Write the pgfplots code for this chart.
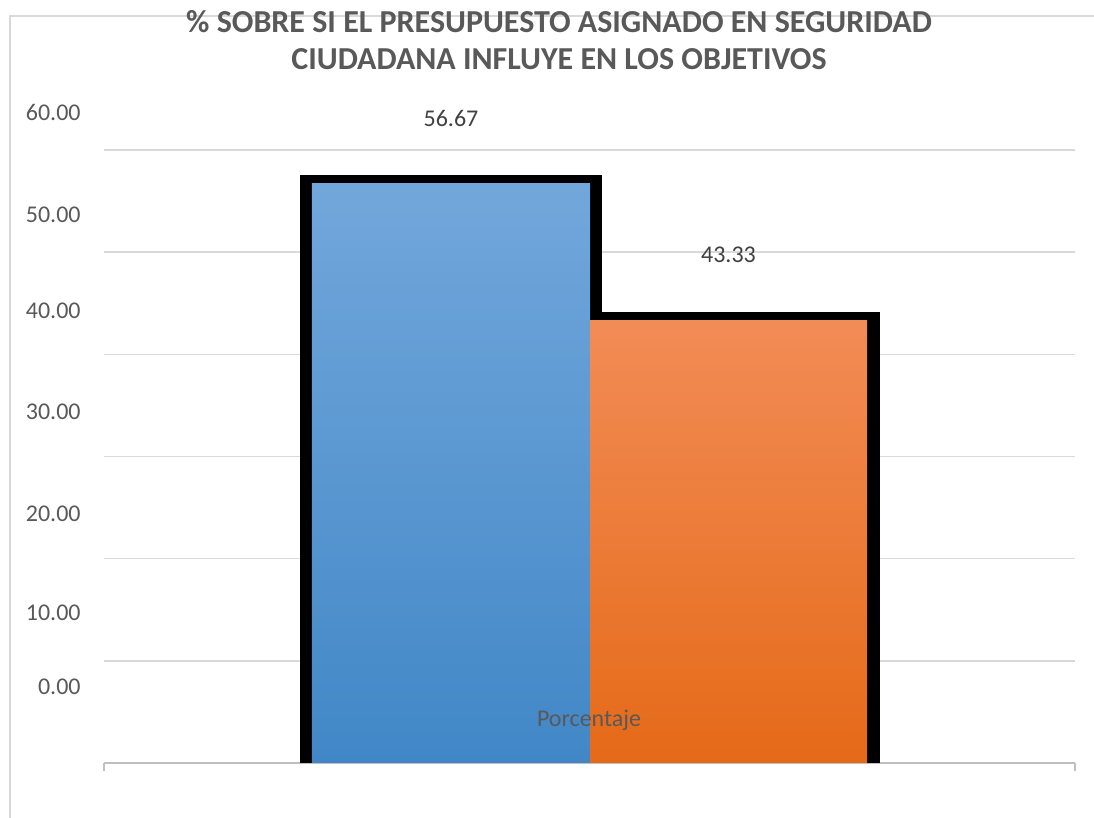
\documentclass[border=0pt]{standalone}
\usepackage{fontspec}
\setmainfont{Carlito}
\usepackage{pgfplots}
\pgfplotsset{compat=1.18}
\definecolor{blueTop}{RGB}{114,167,219}
\definecolor{blueBot}{RGB}{65,135,199}
\definecolor{orTop}{RGB}{242,140,86}
\definecolor{orBot}{RGB}{229,106,24}
\definecolor{txtGray}{RGB}{89,89,89}
\definecolor{lblGray}{RGB}{64,64,64}
\definecolor{gridGray}{RGB}{217,217,217}
\definecolor{axGray}{RGB}{191,191,191}

\begin{document}
\begin{tikzpicture}
% 1 px of the reference = 0.5pt, origin at the axis bottom-left (px 104,763)
\useasboundingbox (-52pt,-27.5pt) rectangle (495pt,381.5pt);
\draw[gridGray, line width=1pt] (-47pt,-27.5pt) -- (-47pt,373.5pt) -- (495pt,373.5pt);
\begin{axis}[
    at={(0pt,0pt)}, anchor=south west,
    scale only axis,
    width=485.5pt, height=329.5pt,
    xmin=104, xmax=1075,
    ymin=0, ymax=64.5,
    axis x line*=bottom,
    axis y line*=left,
    x axis line style={draw=axGray, line width=1pt, -},
    y axis line style={draw=none},
    xtick=\empty,
    ytick={10,20,30,40,50,60},
    yticklabels={},
    ytick style={draw=none},
    ymajorgrids,
    grid style={draw=gridGray, line width=0.8pt},
    extra y ticks={7.44,14.68,24.37,34.36,44.3,53.64,63.69},
    extra y tick labels={0.00,10.00,20.00,30.00,40.00,50.00,60.00},
    extra y tick style={grid=none, tick style={draw=none}},
    yticklabel style={anchor=east, inner sep=0pt, xshift=-11.5pt,
        font=\fontsize{12}{14}\selectfont, text=txtGray},
    clip=false,
]
% black shadows
\addplot[ybar, bar shift=0pt, bar width=302, fill=black, draw=none]
    coordinates {(451,57.55)};
\addplot[ybar, bar shift=0pt, bar width=290, fill=black, draw=none]
    coordinates {(735,44.14)};
% bars
\addplot[ybar, bar shift=0pt, bar width=278, draw=none,
    top color=blueTop, bottom color=blueBot,
    nodes near coords={56.67},
    every node near coord/.append style={anchor=center, yshift=33pt,
        font=\fontsize{12}{14}\selectfont, text=lblGray}]
    coordinates {(451,56.67)};
\addplot[ybar, bar shift=0pt, bar width=277, draw=none,
    top color=orTop, bottom color=orBot,
    nodes near coords={43.33},
    every node near coord/.append style={anchor=center, yshift=32.5pt,
        font=\fontsize{12}{14}\selectfont, text=lblGray}]
    coordinates {(728.5,43.33)};
\node[text=txtGray, font=\fontsize{12}{14}\selectfont] at (axis cs:589,4.2) {Porcentaje};
\draw[axGray, line width=1pt] (axis cs:104,0) -- ([yshift=-4pt]axis cs:104,0);
\draw[axGray, line width=1pt] (axis cs:1075,0) -- ([yshift=-4pt]axis cs:1075,0);
\end{axis}
\node[align=center, text=txtGray, font=\bfseries\fontsize{16}{18.5}\selectfont]
    at (227.5pt,361.25pt)
    {\% SOBRE SI EL PRESUPUESTO ASIGNADO EN SEGURIDAD\\CIUDADANA INFLUYE EN LOS OBJETIVOS};
\end{tikzpicture}
\end{document}
